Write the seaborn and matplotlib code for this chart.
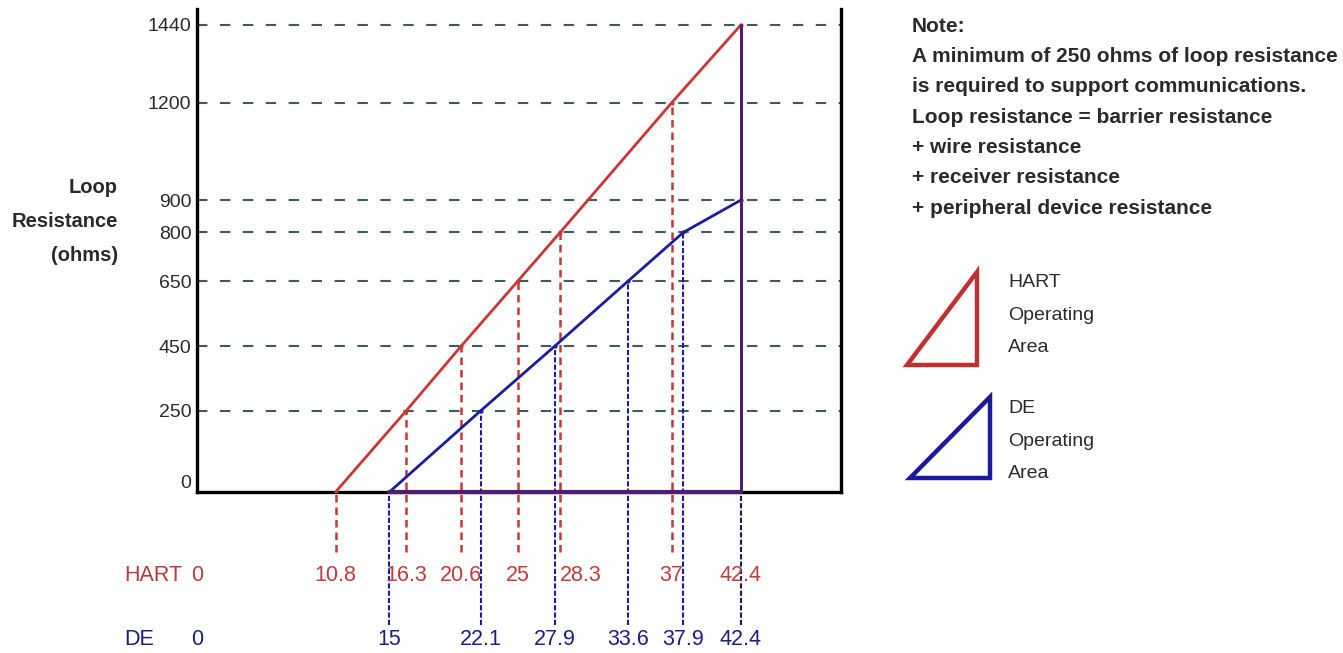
import numpy as np
import pandas as pd
import matplotlib
matplotlib.use("Agg")
import matplotlib.pyplot as plt
from matplotlib.patches import Polygon
import seaborn as sns

sns.set_theme(style="white")
plt.rcParams['font.family'] = ['Liberation Sans', 'DejaVu Sans']

# loop resistance gridlines (ohms)
ohm_ticks = [0, 250, 450, 650, 800, 900, 1200, 1440]

# HART operating area: supply volts vs max loop resistance
hart_volts = [10.8, 16.3, 20.6, 25, 28.3, 37, 42.4]
hart_ohms = [0, 250, 450, 650, 800, 1200, 1440]

# DE operating area
de_volts = [15, 22.1, 27.9, 33.6, 37.9, 42.4]
de_ohms = [0, 250, 450, 650, 800, 900]

note_lines = [
    "Note:",
    "A minimum of 250 ohms of loop resistance",
    "is required to support communications.",
    "Loop resistance = barrier resistance",
    "+ wire resistance",
    "+ receiver resistance",
    "+ peripheral device resistance",
]

RED = "#cc3535"
BLUE = "#1c1ca0"
PURPLE = "#4e1f6e"
GRID = "#3d5a60"
TXT = "#2a2a2a"

hart = pd.DataFrame({"volts": hart_volts, "ohms": hart_ohms})
de = pd.DataFrame({"volts": de_volts, "ohms": de_ohms})

fig = plt.figure(figsize=(13.43, 6.53), dpi=100)
ax = fig.add_axes([0.1467, 0.2466, 0.4795, 0.7396])
ax.set_xlim(0, 50.2)
ax.set_ylim(0, 1489)

# horizontal dashed gridlines
ax.hlines(ohm_ticks[1:], 0, 50.2, colors=GRID, linestyles=(0, (5, 6)), lw=1.5, zorder=1)

# dashed drop lines down to the voltage labels
hart_low = -185
de_low = -410
ax.vlines(hart_volts[:-1], hart_low, hart_ohms[:-1], colors=RED, linestyles=(0, (3, 2)),
          lw=1.8, clip_on=False, zorder=2)
ax.vlines(de_volts[:-1], de_low, de_ohms[:-1], colors=BLUE, linestyles=(0, (2.5, 1)),
          lw=1.5, clip_on=False, zorder=2)
ax.vlines(de_volts[-1], de_low, 0, colors="#1a1a50", linestyles=(0, (2.5, 1)),
          lw=1.5, clip_on=False, zorder=2)

# operating area outlines
sns.lineplot(data=hart, x="volts", y="ohms", ax=ax, color=RED, lw=2, sort=False,
             estimator=None, marker="o", markersize=3, markeredgewidth=0, zorder=4)
sns.lineplot(data=de, x="volts", y="ohms", ax=ax, color=BLUE, lw=2, sort=False,
             estimator=None, marker="o", markersize=3, markeredgewidth=0, zorder=4)
ax.plot([de_volts[0], de_volts[-1]], [0, 0], color=PURPLE, lw=3, zorder=5, clip_on=False)
ax.plot([hart_volts[-1], hart_volts[-1]], [0, hart_ohms[-1]], color=PURPLE, lw=2.2, zorder=5)

# axes styling
for side in ["left", "right", "bottom"]:
    ax.spines[side].set_color("black")
    ax.spines[side].set_linewidth(2.4)
ax.spines["top"].set_visible(False)
ax.set_xticks([])
ax.set_yticks(ohm_ticks)
ax.set_yticklabels([str(t) for t in ohm_ticks], fontsize=14, color=TXT)
ax.tick_params(axis="y", length=0, pad=4)
ax.get_yticklabels()[0].set_va("bottom")
ax.set_xlabel("")
ax.set_ylabel("")
ax.text(-0.123, 0.559, "Loop\nResistance\n(ohms)", transform=ax.transAxes, ha="right",
        va="center", multialignment="right", fontsize=14.5, fontweight="bold", color=TXT,
        linespacing=2.0)

# voltage labels under the axis
hart_y = -256
de_y = -456
label_ha = {28.3: "left"}
ax.text(-5.65, hart_y, "HART", ha="left", va="center", fontsize=15.5, color="#b53a3a", clip_on=False)
ax.text(-5.65, de_y, "DE", ha="left", va="center", fontsize=15.5, color="#1c1c7a", clip_on=False)
for v in [0] + hart_volts:
    ax.text(v, hart_y, f"{v:g}", ha=label_ha.get(v, "center"), va="center", fontsize=15.5,
            color="#c23a3a")
for v in [0] + de_volts:
    ax.text(v, de_y, f"{v:g}", ha="center", va="center", fontsize=15.5, color="#1c1c8a")

# note block
fig.text(912 / 1343, 1 - 17 / 653, "\n".join(note_lines), ha="left", va="top",
         fontsize=15, fontweight="bold", color=TXT, linespacing=1.75)

# legend triangles
W, H = 1343, 653
def tri(pts, color):
    p = Polygon([(x / W, 1 - y / H) for x, y in pts], closed=True, fill=False,
                edgecolor=color, lw=3.2, transform=fig.transFigure, joinstyle="miter")
    fig.patches.append(p)

tri([(907, 365), (977, 365), (977, 272)], "#c0302e")
tri([(910, 478), (990, 478), (990, 397)], "#1a1a9a")
fig.text(1008 / W, 1 - 315 / H, "HART\nOperating\nArea", ha="left", va="center",
         fontsize=14, color=TXT, linespacing=2.2)
fig.text(1008 / W, 1 - 441 / H, "DE\nOperating\nArea", ha="left", va="center",
         fontsize=14, color=TXT, linespacing=2.2)

fig.savefig("out.png", dpi=100)
